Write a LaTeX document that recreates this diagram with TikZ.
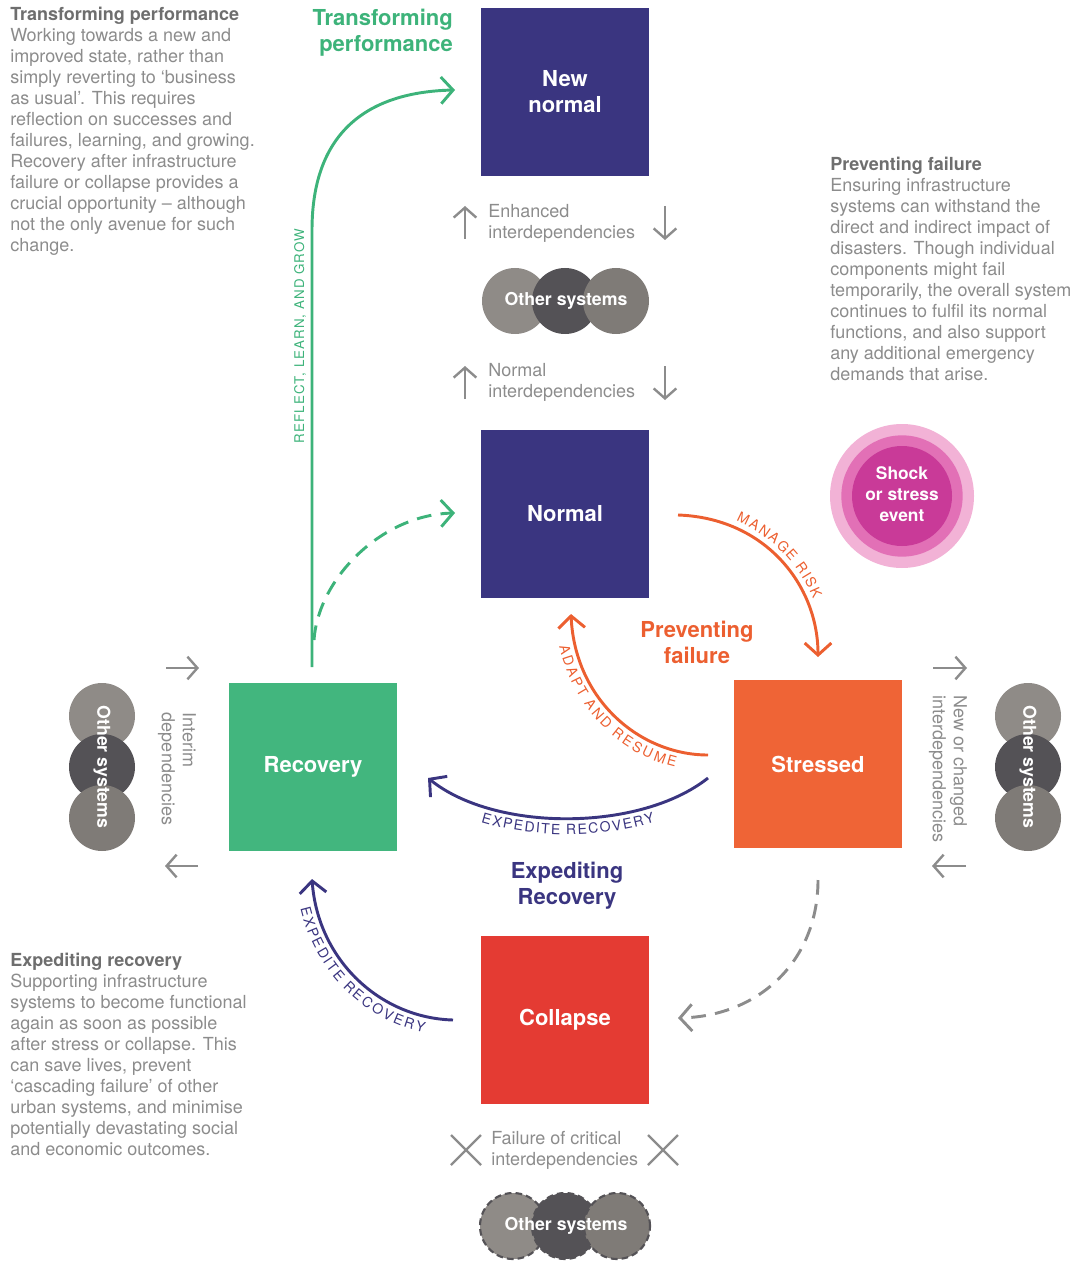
\documentclass[tikz,border=0pt]{standalone}
\usepackage{fontspec}
\setmainfont{TeX Gyre Heros}
\usetikzlibrary{arrows.meta,decorations.text}
\definecolor{navyC}{RGB}{58,53,128}
\definecolor{greenB}{RGB}{66,182,126}
\definecolor{greenA}{RGB}{61,179,122}
\definecolor{orangeB}{RGB}{239,100,54}
\definecolor{orangeA}{RGB}{236,95,48}
\definecolor{redB}{RGB}{228,59,51}
\definecolor{txtgray}{RGB}{140,140,140}
\definecolor{headgray}{RGB}{110,110,110}
\definecolor{arrgray}{RGB}{140,140,140}
\definecolor{sysL}{RGB}{143,139,135}
\definecolor{sysD}{RGB}{84,82,86}
\definecolor{sysR}{RGB}{127,123,119}
\definecolor{pinkL}{RGB}{242,178,214}
\definecolor{pinkM}{RGB}{226,112,182}
\definecolor{pinkD}{RGB}{201,58,152}
\begin{document}
\begin{tikzpicture}[x=0.75pt,y=-0.75pt,
  box/.style={rectangle, minimum width=126pt, minimum height=126pt, inner sep=0pt, text=white, font=\fontsize{16.5}{19.5}\selectfont\bfseries, align=center},
  para/.style={anchor=north west, inner sep=0pt, align=left, text=txtgray, font=\fontsize{13.5}{15.75}\selectfont},
  ttl/.style={inner sep=0pt, align=center, font=\fontsize{16.5}{19.5}\selectfont\bfseries},
  bigarrow/.style={line width=2.2pt, -{Straight Barb[length=9pt,width=20pt]}},
  smallarrow/.style={draw=arrgray, line width=1.8pt, -{Straight Barb[length=7.5pt,width=17pt]}},
  xmark/.style={draw=arrgray, line width=1.8pt},
  sysc/.style={circle, minimum size=49.5pt, inner sep=0pt},
  sysdash/.style={draw=sysD, line width=1.6pt, dash pattern=on 5pt off 3pt},
  systxt/.style={inner sep=0pt, text=white, font=\fontsize{13.3}{15}\selectfont\bfseries},
  pathtxt/.style={decorate, decoration={text along path, text align=center, text color=#1}}
]
\useasboundingbox (0,0) rectangle (1079,1262);

% ---------- boxes
\node[box, fill=navyC] (newn) at (565,92) {New\\normal};
\node[box, fill=navyC] (norm) at (565,514) {Normal};
\node[box, fill=greenB] (rec) at (313,767) {Recovery};
\node[box, fill=orangeB] (str) at (818,764) {Stressed};
\node[box, fill=redB] (col) at (565,1020) {Collapse};

% ---------- other systems (top)
\node[sysc, fill=sysL] (t1) at (515,301) {};
\node[sysc, fill=sysD] (t2) at (565,301) {};
\node[sysc, fill=sysR] (t3) at (616,301) {};
\node[systxt] (tt) at (566,301) {Other systems};

% ---------- other systems (left)
\node[sysc, fill=sysL] (l1) at (102,716) {};
\node[sysc, fill=sysD] (l2) at (102,767) {};
\node[sysc, fill=sysR] (l3) at (102,818) {};
\node[systxt, rotate=-90] (lt) at (102,767) {Other systems};

% ---------- other systems (right)
\node[sysc, fill=sysL] (r1) at (1028,716) {};
\node[sysc, fill=sysD] (r2) at (1028,767) {};
\node[sysc, fill=sysR] (r3) at (1028,818) {};
\node[systxt, rotate=-90] (rt) at (1028,767) {Other systems};

% ---------- other systems (bottom, dashed)
\node[sysc, fill=sysL, sysdash] (b1) at (513,1226) {};
\node[sysc, fill=sysD, sysdash] (b2) at (565,1226) {};
\node[sysc, fill=sysR, sysdash] (b3) at (617,1226) {};
\node[systxt] (bt) at (566,1226) {Other systems};

% ---------- shock circle
\node[circle, fill=pinkL, minimum size=108pt, inner sep=0pt] (sh1) at (902,496) {};
\node[circle, fill=pinkM, minimum size=91pt, inner sep=0pt] (sh2) at (902,496) {};
\node[circle, fill=pinkD, minimum size=75pt, inner sep=0pt] (sh3) at (902,496) {};
\node[inner sep=0pt, align=center, text=white, font=\fontsize{13}{15.75}\selectfont\bfseries] (sht) at (902,494) {Shock\\or stress\\event};

% ---------- interdependency labels
\draw[smallarrow] (465,239) -- (465,206);
\draw[smallarrow] (665,206) -- (665,240);
\node[para] (enh) at (488,204) {Enhanced\\interdependencies};
\draw[smallarrow] (465,399) -- (465,366);
\draw[smallarrow] (665,366) -- (665,400);
\node[para] (nint) at (488,363) {Normal\\interdependencies};

\draw[xmark] (451,1135) -- (481,1165) (451,1165) -- (481,1135);
\draw[xmark] (648,1135) -- (678,1165) (648,1165) -- (678,1135);
\node[para] (fail) at (491,1131) {Failure of critical\\interdependencies};

\draw[smallarrow] (166,668) -- (199,668);
\draw[smallarrow] (198,866) -- (165,866);
\node[inner sep=0pt, align=left, text=txtgray, font=\fontsize{13.5}{15.75}\selectfont, rotate=-90] (intd) at (177,769) {Interim\\dependencies};

\draw[smallarrow] (933,668) -- (967,668);
\draw[smallarrow] (966,866) -- (932,866);
\node[inner sep=0pt, align=left, text=txtgray, font=\fontsize{13.5}{15.75}\selectfont, rotate=-90] (ncd) at (948,769) {New or changed\\interdependencies};

% ---------- section titles
\node[ttl, text=greenA, anchor=north east, align=right] (tpT) at (453,9) {Transforming\\performance};
\node[ttl, text=orangeA] (pfT) at (697,642) {Preventing\\failure};
\node[ttl, text=navyC] (erT) at (567,886) {Expediting\\Recovery};

% ---------- paragraphs
\node[para] (tpP) at (10,7) {{\color{headgray}\bfseries Transforming performance}\\
Working towards a new and\\
improved state, rather than\\
simply reverting to ‘business\\
as usual’. This requires\\
reflection on successes and\\
failures, learning, and growing.\\
Recovery after infrastructure\\
failure or collapse provides a\\
crucial opportunity -- although\\
not the only avenue for such\\
change.};

\node[para] (pfP) at (830,157) {{\color{headgray}\bfseries Preventing failure}\\
Ensuring infrastructure\\
systems can withstand the\\
direct and indirect impact of\\
disasters. Though individual\\
components might fail\\
temporarily, the overall system\\
continues to fulfil its normal\\
functions, and also support\\
any additional emergency\\
demands that arise.};

\node[para] (erP) at (10,953) {{\color{headgray}\bfseries Expediting recovery}\\
Supporting infrastructure\\
systems to become functional\\
again as soon as possible\\
after stress or collapse. This\\
can save lives, prevent\\
‘cascading failure’ of other\\
urban systems, and minimise\\
potentially devastating social\\
and economic outcomes.};

% ---------- coordinates for connector ends
\coordinate (gA) at (312,667);
\coordinate (gB) at (455,90);
\coordinate (gC) at (314,640);
\coordinate (gD) at (455,513);
\coordinate (mA) at (678,515);
\coordinate (mB) at (818,657);
\coordinate (aA) at (708,755);
\coordinate (aB) at (571,614);
\coordinate (eA) at (708,778);
\coordinate (eB) at (428,778);
\coordinate (fA) at (453,1020);
\coordinate (fB) at (312,879);
\coordinate (dA) at (818,880);
\coordinate (dB) at (678,1018);

% ---------- green: transforming
\draw[bigarrow, draw=greenA] (gA) -- (312,230) .. controls (312,130) and (370,92) .. (gB);
\node[inner sep=0pt, rotate=90, text=greenA, font=\fontsize{10}{12}\selectfont\addfontfeatures{LetterSpace=8}] (rlg) at (300,336) {REFLECT, LEARN, AND GROW};
\draw[bigarrow, draw=greenA, dash pattern=on 11pt off 7pt] (gC) .. controls (318,580) and (380,515) .. (gD);

% ---------- orange: preventing failure
\draw[bigarrow, draw=orangeA] (mA) .. controls (765,518) and (818,585) .. (mB);
\path[pathtxt=orangeA, decoration={raise=5pt, text={|\fontsize{10.5}{12}\selectfont|{M\kern.9pt}{A\kern.9pt}{N\kern.9pt}{A\kern.9pt}{G\kern.9pt}{E\kern.9pt} {R\kern.9pt}{I\kern.9pt}{S\kern.9pt}{K}}}] (mA) .. controls (765,518) and (818,585) .. (mB);
\draw[bigarrow, draw=orangeA] (aA) .. controls (640,755) and (575,700) .. (aB);
\path[pathtxt=orangeA, decoration={raise=-12pt, text={|\fontsize{10.5}{12}\selectfont|{A\kern.9pt}{D\kern.9pt}{A\kern.9pt}{P\kern.9pt}{T\kern.9pt} {A\kern.9pt}{N\kern.9pt}{D\kern.9pt} {R\kern.9pt}{E\kern.9pt}{S\kern.9pt}{U\kern.9pt}{M\kern.9pt}{E}}}] (aB) .. controls (575,700) and (640,755) .. (aA);

% ---------- navy: expediting recovery
\draw[bigarrow, draw=navyC] (eA) .. controls (640,832) and (495,832) .. (eB);
\path[pathtxt=navyC, decoration={raise=-12pt, text={|\fontsize{10.5}{12}\selectfont|{E\kern.8pt}{X\kern.8pt}{P\kern.8pt}{E\kern.8pt}{D\kern.8pt}{I\kern.8pt}{T\kern.8pt}{E\kern.8pt} {R\kern.8pt}{E\kern.8pt}{C\kern.8pt}{O\kern.8pt}{V\kern.8pt}{E\kern.8pt}{R\kern.8pt}{Y}}}] (eB) .. controls (495,832) and (640,832) .. (eA);
\draw[bigarrow, draw=navyC] (fA) .. controls (380,1018) and (318,960) .. (fB);
\path[pathtxt=navyC, decoration={raise=-12pt, text={|\fontsize{10.5}{12}\selectfont|{E\kern.8pt}{X\kern.8pt}{P\kern.8pt}{E\kern.8pt}{D\kern.8pt}{I\kern.8pt}{T\kern.8pt}{E\kern.8pt} {R\kern.8pt}{E\kern.8pt}{C\kern.8pt}{O\kern.8pt}{V\kern.8pt}{E\kern.8pt}{R\kern.8pt}{Y}}}] (fB) .. controls (318,960) and (380,1018) .. (fA);

% ---------- gray dashed: stressed to collapse
\draw[bigarrow, draw=arrgray, dash pattern=on 11pt off 7pt] (dA) .. controls (818,960) and (760,1016) .. (dB);
\end{tikzpicture}
\end{document}
